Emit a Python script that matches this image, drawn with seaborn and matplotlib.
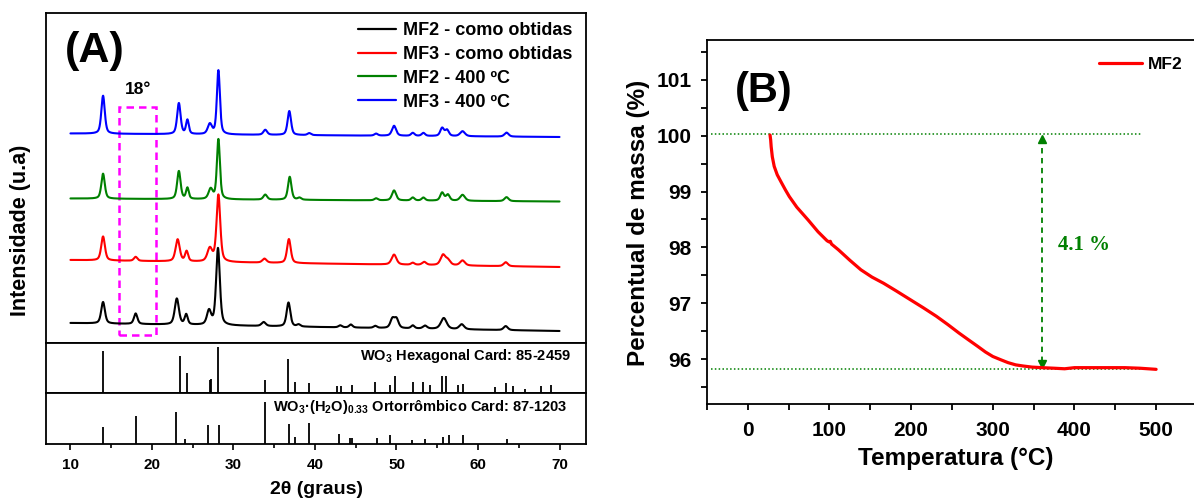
import numpy as np
import pandas as pd
import matplotlib
matplotlib.use("Agg")
import matplotlib.pyplot as plt
import seaborn as sns
from matplotlib.patches import Rectangle
from matplotlib.ticker import MultipleLocator

# ---------------- data ----------------
series_names = ["MF2 - como obtidas", "MF3 - como obtidas", "MF2 - 400 ºC", "MF3 - 400 ºC"]
series_colors = ["black", "#ff0000", "#008000", "#0000ff"]

# baseline level (start at 10°, end at 70°), arbitrary units
mf2_obt_base = [20, 12]
mf3_obt_base = [83, 76]
mf2_400_base = [144.5, 141.5]
mf3_400_base = [209.5, 206]

# peak positions (2θ), amplitudes, half widths
mf2_obt_pos = [14.0, 18.0, 23.05, 24.2, 27.0, 28.1, 33.7, 36.75, 38.0, 43.1, 44.4, 47.4, 49.5, 50.0, 52.0, 53.5, 55.8, 58.0, 63.4]
mf2_obt_amp = [21.5, 10.5, 26, 10, 14, 77, 4, 24, 2, 2, 3, 2, 9, 9, 3, 3, 11, 5, 4]
mf2_obt_wid = [0.27, 0.25, 0.3, 0.22, 0.3, 0.27, 0.3, 0.27, 0.25, 0.25, 0.25, 0.25, 0.3, 0.3, 0.25, 0.3, 0.42, 0.35, 0.3]

mf3_obt_pos = [14.0, 18.0, 23.15, 24.25, 27.1, 28.15, 33.8, 36.8, 49.7, 52.0, 53.4, 55.7, 56.3, 58.1, 63.4]
mf3_obt_amp = [24, 4, 22, 10, 13, 67, 4, 24, 10, 2, 3, 10, 5, 5, 4]
mf3_obt_wid = [0.27, 0.25, 0.3, 0.22, 0.35, 0.27, 0.3, 0.27, 0.35, 0.25, 0.3, 0.35, 0.35, 0.35, 0.3]

mf2_400_pos = [14.0, 23.3, 24.35, 27.2, 28.15, 33.9, 36.9, 38.1, 47.5, 49.7, 52.0, 53.3, 55.6, 56.3, 58.1, 63.5]
mf2_400_amp = [25, 28, 11, 10, 60, 5, 23, 2, 2, 10, 3, 3, 8, 6, 6, 4]
mf2_400_wid = [0.25, 0.25, 0.2, 0.3, 0.22, 0.27, 0.25, 0.25, 0.25, 0.3, 0.25, 0.25, 0.27, 0.27, 0.35, 0.3]

mf3_400_pos = [14.0, 23.3, 24.35, 27.1, 28.15, 33.9, 36.85, 39.3, 47.5, 49.7, 52.0, 53.3, 55.6, 56.2, 58.1, 63.5]
mf3_400_amp = [38, 31, 14, 10, 64, 5, 24, 2, 2, 10, 3, 3, 8, 6, 5, 4]
mf3_400_wid = [0.25, 0.25, 0.2, 0.3, 0.22, 0.27, 0.25, 0.25, 0.25, 0.3, 0.25, 0.25, 0.27, 0.27, 0.35, 0.3]

# reference cards (stick patterns), relative heights
hex_pos = [14.0, 23.4, 24.3, 27.1, 27.3, 28.15, 33.9, 36.7, 37.5, 39.3, 42.7, 43.2, 44.6, 47.4, 49.2, 49.8,
           52.0, 53.3, 54.1, 55.6, 56.1, 57.6, 58.1, 62.1, 63.4, 64.3, 65.8, 67.7, 69.0]
hex_int = [0.84, 0.75, 0.41, 0.26, 0.29, 0.93, 0.26, 0.68, 0.23, 0.21, 0.15, 0.15, 0.17, 0.23, 0.16, 0.35,
           0.23, 0.23, 0.17, 0.35, 0.34, 0.17, 0.19, 0.13, 0.21, 0.15, 0.09, 0.15, 0.16]
orto_pos = [14.0, 18.0, 23.0, 24.0, 26.9, 28.2, 33.9, 36.8, 37.6, 39.3, 43.0, 44.3, 44.5, 47.6, 49.2,
            51.9, 53.5, 55.75, 56.5, 58.2, 63.6]
orto_int = [0.33, 0.54, 0.63, 0.10, 0.37, 0.37, 0.83, 0.40, 0.13, 0.41, 0.20, 0.12, 0.12, 0.12, 0.17,
            0.08, 0.10, 0.14, 0.17, 0.17, 0.10]

highlight_2theta = [16.0, 20.5]
highlight_level = [8, 236]

# TGA
tga_temp = [27.2, 28.0, 28.6, 30, 32.3, 36, 41.5, 46, 50.8, 60, 73.9, 86, 97, 99.3, 101, 102.5, 110.8, 125,
            138.5, 152, 166.2, 182, 198.5, 215, 230.8, 245, 258.5, 270, 281.6, 291, 300, 310, 318.6, 328,
            337, 348, 360, 375, 388, 400, 415.5, 440, 461.7, 480, 490, 500]
tga_mass = [100.01, 99.92, 99.80, 99.62, 99.45, 99.30, 99.15, 99.03, 98.91, 98.72, 98.49, 98.28, 98.12, 98.10,
            98.11, 98.06, 97.96, 97.77, 97.60, 97.47, 97.36, 97.22, 97.07, 96.92, 96.77, 96.62, 96.47, 96.35,
            96.23, 96.13, 96.05, 95.99, 95.94, 95.90, 95.88, 95.86, 95.85, 95.84, 95.83, 95.85, 95.85, 95.85,
            95.85, 95.84, 95.83, 95.82]
mass_start_level = 100.03
mass_end_level = 95.83
arrow_temp = 360
loss_label = "4.1 %"

# ---------------- style ----------------
sns.set_theme(style="ticks")
plt.rcParams["font.family"] = ["Liberation Sans", "DejaVu Sans"]
plt.rcParams["font.weight"] = "bold"
plt.rcParams["axes.labelweight"] = "bold"
plt.rcParams["mathtext.fontset"] = "custom"
plt.rcParams["mathtext.rm"] = "Liberation Sans:bold"
plt.rcParams["mathtext.default"] = "rm"
plt.rcParams["axes.edgecolor"] = "black"
plt.rcParams["text.color"] = "black"
plt.rcParams["axes.labelcolor"] = "black"
plt.rcParams["xtick.color"] = "black"
plt.rcParams["ytick.color"] = "black"
plt.rcParams["xtick.labelcolor"] = "black"
plt.rcParams["ytick.labelcolor"] = "black"

W, H = 1194, 498
fig = plt.figure(figsize=(W / 100, H / 100), dpi=100)


def fax(x0, y0, x1, y1):
    return fig.add_axes([x0 / W, 1 - y1 / H, (x1 - x0) / W, (y1 - y0) / H])


def pattern(x, base, pos, amp, wid):
    y = base[0] + (base[1] - base[0]) * (x - 10) / 60
    for p, a, w in zip(pos, amp, wid):
        d = (x - p) / w
        y = y + a * (0.5 / (1 + d ** 2) + 0.5 * np.exp(-np.log(2) * d ** 2))
    return y


xlim_a = (7.0, 73.25)
lw_frame = 1.3

ax_m = fax(46, 13, 586, 343)
ax_h = fax(46, 343, 586, 393)
ax_o = fax(46, 393, 586, 444)

x = np.linspace(10, 70, 4000)
sets = [
    (mf2_obt_base, mf2_obt_pos, mf2_obt_amp, mf2_obt_wid),
    (mf3_obt_base, mf3_obt_pos, mf3_obt_amp, mf3_obt_wid),
    (mf2_400_base, mf2_400_pos, mf2_400_amp, mf2_400_wid),
    (mf3_400_base, mf3_400_pos, mf3_400_amp, mf3_400_wid),
]
frames = []
for name, (b, p, a, w) in zip(series_names, sets):
    frames.append(pd.DataFrame({"2theta": x, "I": pattern(x, b, p, a, w), "amostra": name}))
df = pd.concat(frames, ignore_index=True)
sns.lineplot(data=df, x="2theta", y="I", hue="amostra", palette=dict(zip(series_names, series_colors)),
             hue_order=series_names, ax=ax_m, lw=1.5, estimator=None, sort=False)

ax_m.set_xlim(*xlim_a)
ax_m.set_ylim(0, 330)
ax_m.set_xticks([])
ax_m.set_yticks([])
ax_m.set_xlabel("")
ax_m.set_ylabel("")

ax_m.add_patch(Rectangle((highlight_2theta[0], highlight_level[0]),
                         highlight_2theta[1] - highlight_2theta[0],
                         highlight_level[1] - highlight_level[0],
                         fill=False, edgecolor="#ff00ff", lw=1.8, ls=(0, (3, 2))))
ax_m.text(18.3, 253, "18°", ha="center", va="center", fontsize=12.5, fontweight="bold")
ax_m.text(0.035, 0.885, "(A)", transform=ax_m.transAxes, fontsize=31, fontweight="bold",
          ha="left", va="center")

leg = ax_m.legend(loc="upper left", bbox_to_anchor=(358 / W, 1 - 22 / H), bbox_transform=fig.transFigure,
                  frameon=False, fontsize=13, handlelength=2.1, handletextpad=0.4, labelspacing=0.38,
                  borderpad=0, borderaxespad=0)
for t in leg.get_texts():
    t.set_fontweight("bold")
for ln in leg.get_lines():
    ln.set_linewidth(1.6)

ax_h.vlines(hex_pos, 0, hex_int, color="black", lw=1.3)
ax_h.set_xlim(*xlim_a)
ax_h.set_ylim(0, 1)
ax_h.set_xticks([])
ax_h.set_yticks([])
ax_h.text(0.972, 0.74, r"WO$_3$ Hexagonal Card: 85-2459", transform=ax_h.transAxes,
          ha="right", va="center", fontsize=10.5, fontweight="bold")

ax_o.vlines(orto_pos, 0, orto_int, color="black", lw=1.3)
ax_o.set_xlim(*xlim_a)
ax_o.set_ylim(0, 1)
ax_o.set_yticks([])
ax_o.xaxis.set_major_locator(MultipleLocator(10))
ax_o.xaxis.set_minor_locator(MultipleLocator(5))
ax_o.tick_params(axis="x", which="major", direction="out", length=4, width=1.2, pad=6, labelsize=11)
ax_o.tick_params(axis="x", which="minor", direction="out", length=3, width=1.2)
for lab in ax_o.get_xticklabels():
    lab.set_fontweight("bold")
ax_o.text(0.42, 0.725, r"WO$_3$·(H$_2$O)$_{0.33}$ Ortorrômbico Card: 87-1203", transform=ax_o.transAxes,
          ha="left", va="center", fontsize=10.5, fontweight="bold")

for a in (ax_m, ax_h, ax_o):
    for s in a.spines.values():
        s.set_linewidth(lw_frame)
        s.set_visible(True)

fig.text(21 / W, 1 - 230 / H, "Intensidade (u.a)", rotation=90, ha="center", va="center",
         fontsize=15.5, fontweight="bold")
fig.text(316 / W, 1 - 489 / H, "2θ (graus)", ha="center", va="center", fontsize=14, fontweight="bold")

# ---------------- panel B ----------------
ax_b = fax(707, 40, 1210, 404)
green = "#008000"
ax_b.hlines(mass_start_level, -45, 483, colors=green, linestyles=(0, (1, 1.5)), lw=1.1, zorder=1)
ax_b.hlines(mass_end_level, -45, 483, colors=green, linestyles=(0, (1, 1.5)), lw=1.1, zorder=1)
ax_b.vlines(arrow_temp, mass_end_level + 0.12, mass_start_level - 0.12, colors=green,
            linestyles=(0, (3, 2.5)), lw=1.3, zorder=1)
ax_b.plot([arrow_temp], [mass_start_level - 0.09], marker="^", color=green, ms=6, zorder=1)
ax_b.plot([arrow_temp], [mass_end_level + 0.09], marker="v", color=green, ms=6, zorder=1)
ax_b.text(380, 98.05, loss_label, color=green, fontsize=15, fontweight="bold",
          family=["Liberation Serif", "DejaVu Serif"], ha="left", va="center")

sns.lineplot(x=tga_temp, y=tga_mass, ax=ax_b, color="#ff0000", lw=2.3, label="MF2", zorder=3,
             estimator=None, sort=False)
ax_b.set_xlim(-50, 566)
ax_b.set_ylim(95.2, 101.71)
ax_b.xaxis.set_major_locator(MultipleLocator(100))
ax_b.xaxis.set_minor_locator(MultipleLocator(50))
ax_b.yaxis.set_major_locator(MultipleLocator(1))
ax_b.yaxis.set_minor_locator(MultipleLocator(0.5))
ax_b.set_yticks([96, 97, 98, 99, 100, 101])
ax_b.tick_params(which="major", direction="out", length=4, width=1.3, labelsize=15)
ax_b.tick_params(axis="x", which="major", pad=8)
ax_b.tick_params(axis="y", which="major", pad=7)
ax_b.tick_params(which="minor", direction="out", length=4, width=1.3)
for lab in ax_b.get_xticklabels() + ax_b.get_yticklabels():
    lab.set_fontweight("bold")
ax_b.set_xlabel("")
ax_b.set_ylabel("")
for s in ax_b.spines.values():
    s.set_linewidth(lw_frame)
ax_b.spines["right"].set_visible(False)
ax_b.text(0.055, 0.86, "(B)", transform=ax_b.transAxes, fontsize=30, fontweight="bold",
          ha="left", va="center")
legb = ax_b.legend(loc="upper left", bbox_to_anchor=(1099 / W, 1 - 57 / H), bbox_transform=fig.transFigure,
                   frameon=False, fontsize=12.5, handlelength=2.5, handletextpad=0.3, borderpad=0,
                   borderaxespad=0)
for t in legb.get_texts():
    t.set_fontweight("bold")
for ln in legb.get_lines():
    ln.set_linewidth(2.3)

fig.text(639 / W, 1 - 223 / H, "Percentual de massa (%)", rotation=90, ha="center", va="center",
         fontsize=17.5, fontweight="bold")
fig.text(956 / W, 1 - 458 / H, "Temperatura (°C)", ha="center", va="center", fontsize=17.5,
         fontweight="bold")

fig.savefig("out.png", dpi=100)
